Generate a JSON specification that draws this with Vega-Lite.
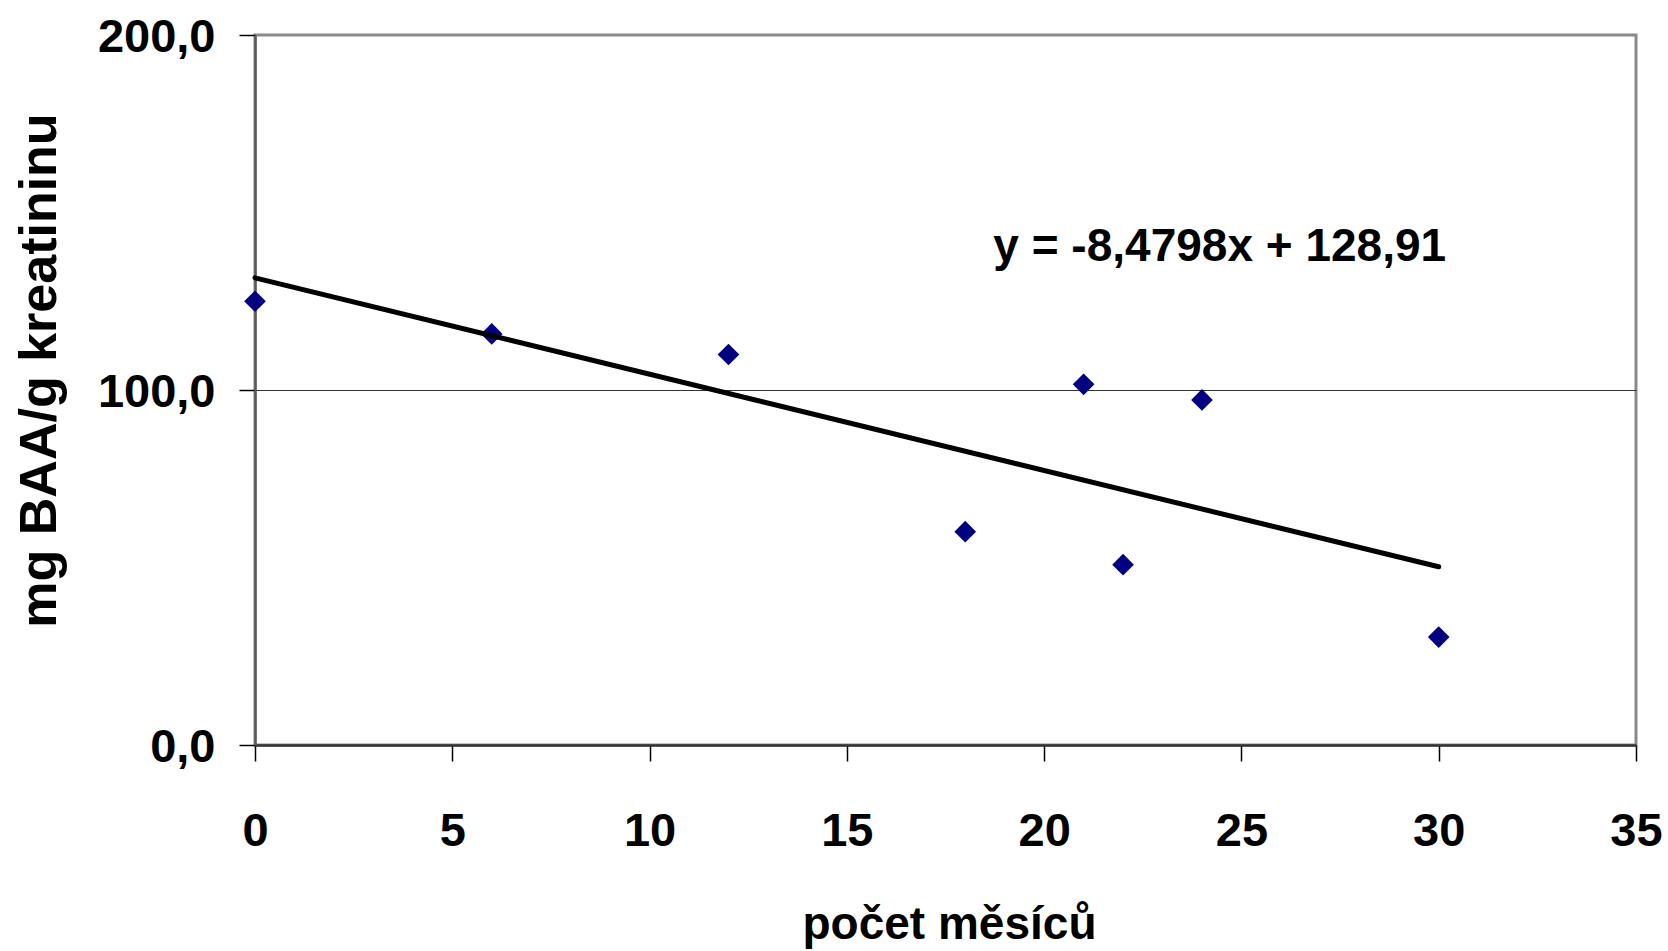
{
  "$schema": "https://vega.github.io/schema/vega-lite/v6.json",
  "autosize": {"type": "none"},
  "width": 1381,
  "height": 710,
  "padding": {"left": 255, "top": 35, "right": 32, "bottom": 206},
  "background": "white",
  "config": {
    "view": {"stroke": "#8a8a8a", "strokeWidth": 3},
    "axis": {
      "labelFont": "Liberation Sans",
      "labelFontWeight": "bold",
      "labelFontSize": 47,
      "labelColor": "black",
      "titleFont": "Liberation Sans",
      "titleFontWeight": "bold",
      "titleColor": "black",
      "tickColor": "black",
      "tickSize": 16,
      "tickWidth": 1.5,
      "domainWidth": 2.5
    }
  },
  "datasets": {
    "pts": [
      {"mesic": 0, "baa": 125.0},
      {"mesic": 6, "baa": 115.8},
      {"mesic": 12, "baa": 110.0},
      {"mesic": 18, "baa": 60.1},
      {"mesic": 21, "baa": 101.6},
      {"mesic": 22, "baa": 50.8},
      {"mesic": 24, "baa": 97.2},
      {"mesic": 30, "baa": 30.4}
    ],
    "trend": [
      {"mesic": 0, "baa": 131.6},
      {"mesic": 30, "baa": 50.2}
    ],
    "eq": [
      {"mesic": 24.45, "baa": 136.3, "label": "y = -8,4798x + 128,91"}
    ]
  },
  "encoding": {
    "x": {
      "field": "mesic",
      "type": "quantitative",
      "scale": {"domain": [0, 35], "nice": false, "zero": false},
      "axis": {
        "values": [0, 5, 10, 15, 20, 25, 30, 35],
        "grid": false,
        "domainColor": "#333333",
        "labelBaseline": "alphabetic",
        "labelPadding": 84,
        "labelFlush": false,
        "labelOverlap": false,
        "title": "počet měsíců",
        "titleFontSize": 46,
        "titleBaseline": "alphabetic",
        "titleY": 193,
        "titleX": 694
      }
    },
    "y": {
      "field": "baa",
      "type": "quantitative",
      "scale": {"domain": [0, 200], "nice": false},
      "axis": {
        "values": [0, 100, 200],
        "grid": true,
        "gridColor": {"condition": {"test": "datum.value == 100", "value": "#333333"}, "value": "transparent"},
        "gridWidth": 1.2,
        "domainColor": "#5a5a5a",
        "labelPadding": 24,
        "labelBaseline": "middle",
        "labelOffset": 2,
        "labelFlush": false,
        "labelOverlap": false,
        "labelExpr": "replace(format(datum.value, '.1f'), '.', ',')",
        "title": "mg BAA/g kreatininu",
        "titleFontSize": 52,
        "titleAngle": -90,
        "titleBaseline": "alphabetic",
        "titleX": -200,
        "titleY": 335
      }
    }
  },
  "layer": [
    {
      "data": {"name": "pts"},
      "mark": {"type": "point", "shape": "diamond", "filled": true, "size": 470, "color": "#000080", "opacity": 1, "clip": false}
    },
    {
      "data": {"name": "trend"},
      "mark": {"type": "line", "color": "black", "strokeWidth": 5, "strokeCap": "round"}
    },
    {
      "data": {"name": "eq"},
      "mark": {"type": "text", "font": "Liberation Sans", "fontWeight": "bold", "fontSize": 46, "color": "black", "align": "center", "baseline": "alphabetic"},
      "encoding": {"text": {"field": "label"}}
    }
  ]
}
